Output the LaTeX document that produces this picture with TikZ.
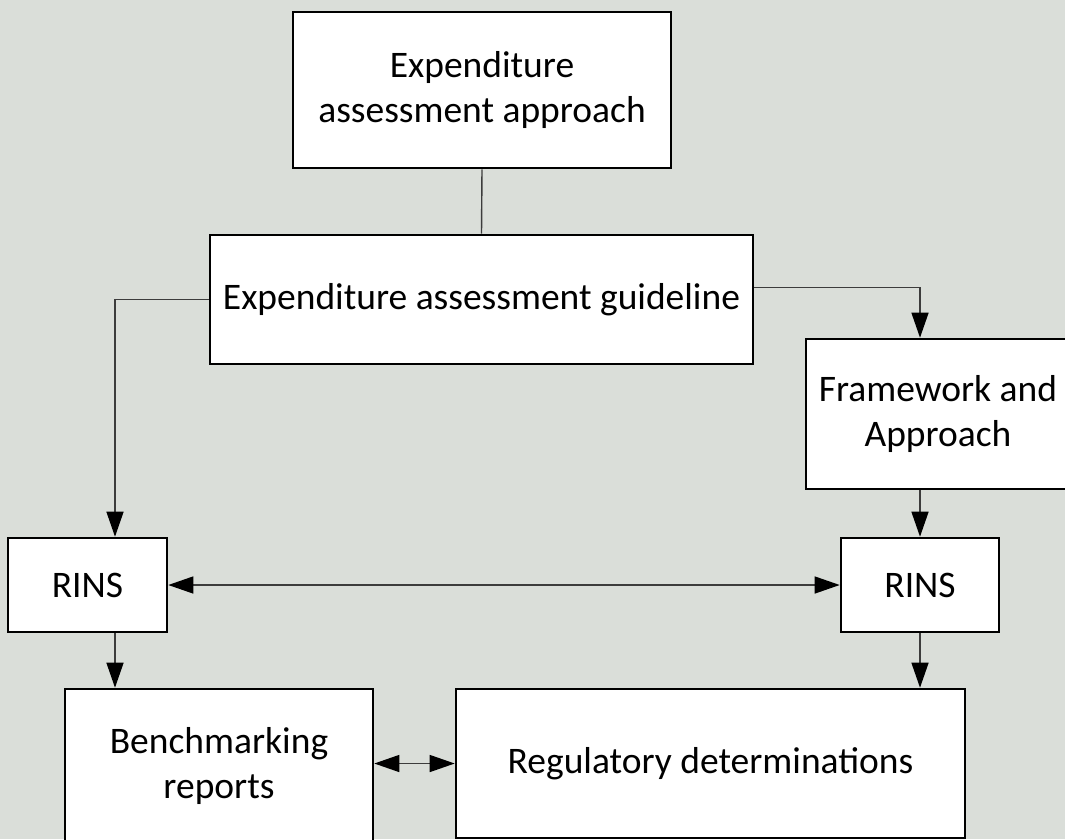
\documentclass[tikz,border=0pt]{standalone}
\usepackage{fontspec}
\setmainfont{Carlito}
\usetikzlibrary{arrows.meta}
\definecolor{bgcol}{RGB}{218,222,217}
\definecolor{linecol}{RGB}{60,60,60}

\begin{document}
\begin{tikzpicture}[x=1pt, y=-1pt,
        every node/.style={font=\fontsize{37.5}{45}\selectfont, align=center},
        box/.style={draw, line width=2.6pt, fill=white, inner sep=0pt},
        link/.style={draw=linecol, line width=1.4pt},
        >={Triangle[length=25pt,width=17pt,color=black]}]
        \fill[bgcol] (0,0) rectangle (1065,839);
        \useasboundingbox (0,0) rectangle (1065,839);
        \node (approach) [box, minimum width=378pt, minimum height=156pt] at (482,90) {Expenditure\\assessment approach};
        \node (guide) [box, minimum width=543pt, minimum height=129pt] at (481.5,299.5) {Expenditure assessment guideline};
        \node (frame) [box, minimum width=264pt, minimum height=150pt] at (938,414) {Framework and\\Approach};
        \node (rinsL) [box, minimum width=159pt, minimum height=94pt] at (87.5,585) {RINS};
        \node (rinsR) [box, minimum width=158pt, minimum height=94pt] at (920,585) {RINS};
        \node (bench) [box, minimum width=308pt, minimum height=153pt] at (219,765.5) {Benchmarking\\reports};
        \node (reg) [box, minimum width=509pt, minimum height=149pt] at (710.5,763.5) {Regulatory determinations};
        \coordinate (lcol) at (115,0);
        \draw[link] (approach.south) -- (guide.north);
        \draw[link,->] (guide.west) -| (lcol |- rinsL.north);
        \draw[link,->] ([yshift=12pt]guide.east) -| (rinsR |- frame.north);
        \draw[link,->] (rinsR |- frame.south) -- (rinsR.north);
        \draw[link,<->] (rinsL.east) -- (rinsR.west);
        \draw[link,->] (lcol |- rinsL.south) -- (lcol |- bench.north);
        \draw[link,->] (rinsR.south) -- (rinsR |- reg.north);
        \draw[link,<->] (reg.west -| bench.east) -- (reg.west);
    \end{tikzpicture}
\end{document}
